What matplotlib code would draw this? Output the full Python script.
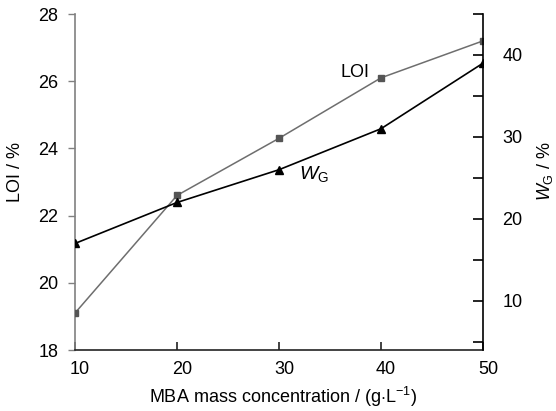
import matplotlib
matplotlib.use("Agg")
import matplotlib.pyplot as plt
from matplotlib.ticker import MultipleLocator
from matplotlib.transforms import ScaledTranslation

plt.rcParams["font.family"] = ["Liberation Sans", "DejaVu Sans"]
plt.rcParams["mathtext.fontset"] = "custom"
plt.rcParams["mathtext.rm"] = "Liberation Sans"
plt.rcParams["mathtext.it"] = "Liberation Sans:italic"

# MBA mass concentration (g/L)
mba_conc = [10, 20, 30, 40, 50]
# Limiting oxygen index (%)
loi = [19.1, 22.6, 24.3, 26.1, 27.2]
# Gel fraction W_G (%)
wg = [17.0, 22.0, 26.0, 31.0, 39.0]

x_ticks = [10, 20, 30, 40, 50]
loi_ticks = [18, 20, 22, 24, 26, 28]
wg_ticks = [10, 20, 30, 40]

FS = 13

fig = plt.figure(figsize=(5.56, 4.11), dpi=100)
ax = fig.add_axes([75 / 556, 1 - 350 / 411, 408 / 556, 336 / 411])
ax2 = ax.twinx()

gray = "#6e6e6e"
ax.plot(mba_conc, loi, color=gray, lw=1.1, marker="s", ms=5,
        mfc="#555555", mec="#555555", zorder=3)
ax2.plot(mba_conc, wg, color="black", lw=1.2, marker="^", ms=6,
         mfc="black", mec="black", zorder=3)

ax.set_xlim(10, 50)
ax.set_ylim(18, 28)
ax2.set_ylim(4, 45)

ax.set_xticks(x_ticks)
ax.set_yticks(loi_ticks)
ax2.set_yticks(wg_ticks)
ax2.yaxis.set_minor_locator(MultipleLocator(5))

for s in ("top", "right"):
    ax.spines[s].set_visible(False)
for s in ("top", "left", "bottom"):
    ax2.spines[s].set_visible(False)
ax.spines["left"].set_color("#808080")
ax.spines["left"].set_linewidth(1.2)
ax.spines["bottom"].set_color("#222222")
ax.spines["bottom"].set_linewidth(1.2)
ax2.spines["right"].set_color("black")
ax2.spines["right"].set_linewidth(1.2)

ax.tick_params(axis="x", direction="in", length=6, width=1.2, color="#222222",
               labelsize=FS, pad=8)
ax.tick_params(axis="y", direction="out", length=5, width=1.0, color="#808080",
               labelsize=FS, pad=7)
ax2.tick_params(axis="y", which="both", direction="in", length=7, width=1.2,
                color="black", labelsize=FS, pad=14)

# shift x tick labels slightly to the right
offset = ScaledTranslation(5 / 100, 0, fig.dpi_scale_trans)
for lbl in ax.get_xticklabels():
    lbl.set_transform(lbl.get_transform() + offset)

ax.set_xlabel(r"MBA mass concentration / (g$\cdot$L$^{-1}$)", fontsize=FS)
ax.xaxis.set_label_coords((283 - 75) / 408, -0.105)
ax.set_ylabel("LOI / %", fontsize=FS)
ax.yaxis.set_label_coords(-0.125, 0.53)
ax2.set_ylabel(r"$W_{\mathrm{G}}$ / %", fontsize=FS)
ax2.yaxis.set_label_coords(1.127, 0.533)

ax.text(37.45, 26.27, "LOI", fontsize=FS, ha="center", va="center")
ax.text(32.0, 23.25, r"$W_{\mathrm{G}}$", fontsize=FS + 1, ha="left",
        va="center")

fig.savefig("out.png", dpi=100)
